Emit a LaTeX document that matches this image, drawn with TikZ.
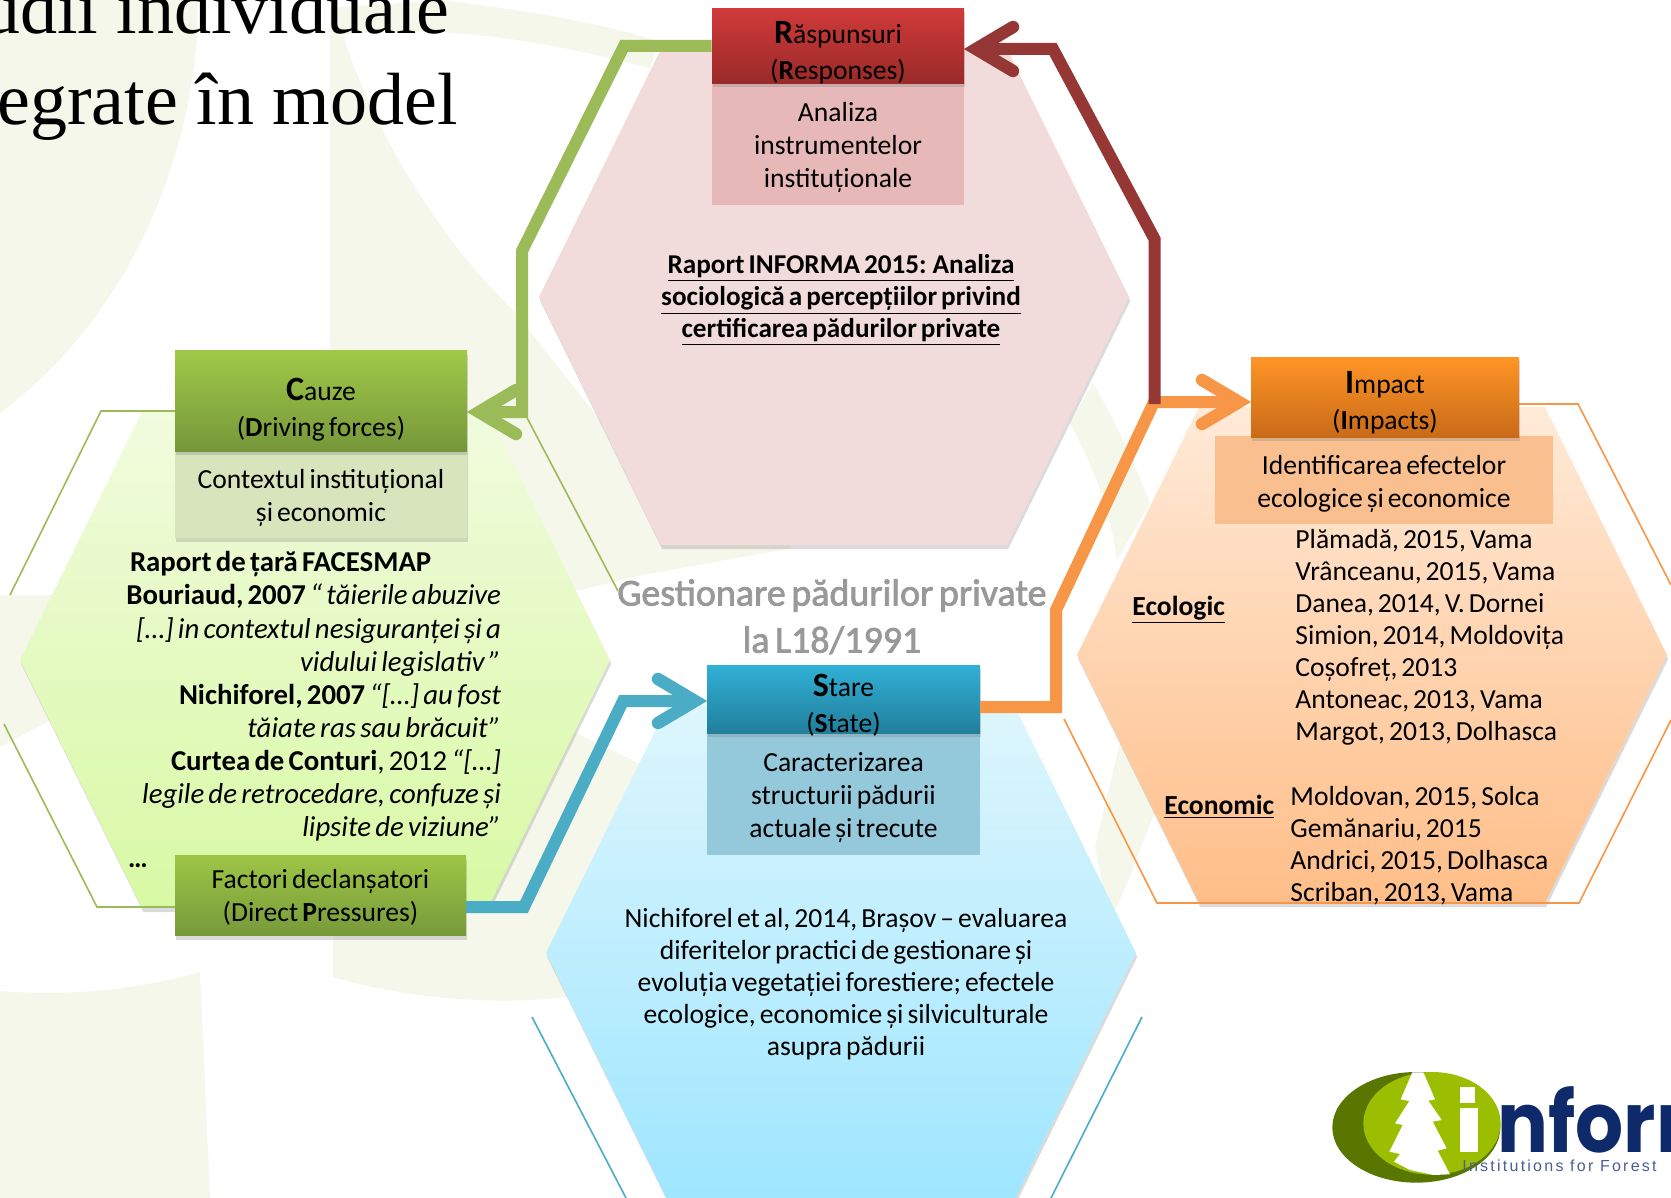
\documentclass[tikz,border=0pt]{standalone}
\usepackage{fontspec}
\setmainfont{Carlito}[WordSpace=0.65]
\newfontfamily\titlefont{Liberation Serif}
\newfontfamily\logofont{Poppins}[FakeStretch=0.9]
\newfontfamily\logosmall[LetterSpace=14]{Liberation Sans}
\usetikzlibrary{arrows.meta,shadows,calc}
\definecolor{palebg}{HTML}{F5F7EA}
\definecolor{cgreen}{HTML}{9BBB59}
\definecolor{cred}{HTML}{953735}
\definecolor{corange}{HTML}{F79646}
\definecolor{cblue}{HTML}{4BACC6}
\definecolor{navy}{HTML}{0F2A6B}
\tikzset{
  softshadow/.style={drop shadow={opacity=0.28,shadow xshift=0.6pt,shadow yshift=-2pt}},
  hexshape/.style={softshadow},
  boxhead/.style={rectangle,inner sep=0pt,softshadow},
  boxbody/.style={rectangle,inner sep=0pt},
  headtext/.style={inner sep=0pt,align=center,font=\fontsize{13.8}{18}\selectfont},
  plaintext/.style={inner sep=0pt,font=\fontsize{13.8}{16}\selectfont},
  conn/.style={line width=6pt,miter limit=3},
  chevron/.style={line width=6.2pt,line cap=round,miter limit=10},
  thinline/.style={line width=0.8pt},
  pale/.style={fill=palebg,draw=none}
}
\newcommand{\capl}[1]{\textbf{{\fontsize{17}{18}\selectfont #1}}}
\begin{document}
\begin{tikzpicture}[x=0.5pt,y=-0.5pt]
\useasboundingbox (0,0) rectangle (1671,1198);
\clip (0,0) rectangle (1671,1198);
\fill[white] (0,0) rectangle (1671,1198);
% pale background swirl
\path[pale] (0,0) -- (197,0) -- (197,38) .. controls (190,130) and (150,300) .. (0,413) -- cycle;
\path[pale] (330,8) -- (443,0) .. controls (520,10) and (600,22) .. (660,42) -- (650,68)
  .. controls (560,45) and (450,22) .. (343,35) .. controls (370,120) and (430,230) .. (513,310)
  -- (600,420) -- (793,548) -- (643,575) -- (580,590) -- (480,600) -- (330,500) -- cycle;
\path[pale] (0,595) -- (60,595) -- (60,715) -- (0,747) -- cycle;
\path[pale] (0,991) .. controls (60,996) and (130,992) .. (200,972) -- (210,1198) -- (0,1198) -- cycle;
\path[pale] (333,880) -- (500,700) -- (580,735) -- (640,764) -- (680,1000) -- (567,997)
  .. controls (500,1005) and (410,1000) .. (333,977) -- cycle;
\path[pale] (1093,383) .. controls (1115,420) and (1135,465) .. (1150,503) -- (1117,560)
  .. controls (1110,510) and (1095,470) .. (1070,423) -- cycle;
\path[pale] (1120,743) -- (1157,807) -- (1123,893) -- (1110,920) -- (1095,847) -- cycle;
% title
\node[inner sep=0pt,anchor=base east,font=\titlefont\fontsize{37}{40}\selectfont] (t1) at (450,34) {udii individuale};
\node[inner sep=0pt,anchor=base east,font=\titlefont\fontsize{37}{40}\selectfont] (t2) at (458,125) {egrate în model};
% hexagons
\path[hexshape,fill={rgb,255:red,242;green,220;blue,219}] (539,297) -- (661,49) -- (1007,49) -- (1129,297) -- (1007,545) -- (661,545) -- cycle;
\path[hexshape,top color={rgb,255:red,241;green,251;blue,222},bottom color={rgb,255:red,216;green,249;blue,164}] (20,660) -- (142,412) -- (488,412) -- (610,660) -- (488,908) -- (142,908) -- cycle;
\path[hexshape,top color={rgb,255:red,222;green,246;blue,253},bottom color={rgb,255:red,158;green,230;blue,255}] (546,953) -- (668,705) -- (1014,705) -- (1136,953) -- (1014,1201) -- (668,1201) -- cycle;
\path[hexshape,top color={rgb,255:red,255;green,234;blue,216},bottom color={rgb,255:red,255;green,190;blue,136}] (1077,655) -- (1199,407) -- (1545,407) -- (1667,655) -- (1545,903) -- (1199,903) -- cycle;
% thin outlines
\draw[thinline,cgreen] (175,411) -- (101,411) -- (10,595);
\draw[thinline,cgreen] (524,412) -- (618,591);
\draw[thinline,cgreen] (4,724) -- (97,907) -- (175,907);
\draw[thinline,cblue] (532,1017) -- (626,1198);
\draw[thinline,cblue] (1142,1017) -- (1051,1198);
\draw[thinline,corange] (1519,404) -- (1578,404) -- (1671,585);
\draw[thinline,corange] (1064,719) -- (1157,903) -- (1579,903) -- (1671,720);
% boxes
\node[boxbody,fill={rgb,255:red,230;green,184;blue,183},minimum width=126pt,minimum height=61pt] (respb) at (838,144.5) {};
\node[boxhead,top color={rgb,255:red,208;green,58;blue,58},bottom color={rgb,255:red,152;green,42;blue,40},minimum width=126pt,minimum height=37.5pt] (resp) at (838,46) {};
\node[boxbody,fill={rgb,255:red,216;green,228;blue,188},softshadow,minimum width=146pt,minimum height=43.5pt] (cauzeb) at (321,494.5) {};
\node[boxhead,top color={rgb,255:red,160;green,200;blue,72},bottom color={rgb,255:red,118;green,151;blue,58},minimum width=146pt,minimum height=50pt] (cauze) at (321,401) {};
\node[boxhead,top color={rgb,255:red,158;green,197;blue,70},bottom color={rgb,255:red,119;green,154;blue,58},minimum width=145.5pt,minimum height=40pt] (fact) at (320.5,895.5) {};
\node[boxbody,fill={rgb,255:red,148;green,200;blue,219},minimum width=136.5pt,minimum height=61pt] (stareb) at (843.5,794) {};
\node[boxhead,top color={rgb,255:red,49;green,176;blue,214},bottom color={rgb,255:red,33;green,127;blue,156},minimum width=136.5pt,minimum height=34pt] (stare) at (843.5,699) {};
\node[boxbody,fill={rgb,255:red,249;green,191;blue,143},minimum width=169pt,minimum height=44pt] (impb) at (1384,479.5) {};
\node[boxhead,top color={rgb,255:red,255;green,149;blue,38},bottom color={rgb,255:red,201;green,106;blue,24},minimum width=134pt,minimum height=40pt] (imp) at (1385,397) {};
% box texts
\node[headtext] (respT) at (838,52.4) {\capl{R}ăspunsuri\\(\textbf{R}esponses)};
\node[headtext,font=\fontsize{13.8}{16.5}\selectfont] (respbT) at (838,147.7) {Analiza\\instrumentelor\\instituționale};
\node[headtext] (cauzeT) at (321,410) {\capl{C}auze\\(\textbf{D}riving forces)};
\node[headtext,font=\fontsize{13.8}{16.5}\selectfont] (cauzebT) at (321,497.7) {Contextul instituțional\\și economic};
\node[headtext,font=\fontsize{13.8}{16.5}\selectfont] (factT) at (320.5,897.5) {Factori declanșatori\\(Direct \textbf{P}ressures)};
\node[headtext] (stareT) at (843.5,705.4) {\capl{S}tare\\(\textbf{S}tate)};
\node[headtext,font=\fontsize{13.8}{16.5}\selectfont] (starebT) at (843.5,797.5) {Caracterizarea\\structurii pădurii\\actuale și trecute};
\node[headtext] (impT) at (1385,402.3) {\capl{I}mpact\\(\textbf{I}mpacts)};
\node[headtext,font=\fontsize{13.8}{16.5}\selectfont] (impbT) at (1384,483.8) {Identificarea efectelor\\ecologice și economice};
% body texts
\node[plaintext,align=center,font=\fontsize{13.6}{16}\selectfont\bfseries] (inf) at (841,300.3) {\underline{Raport INFORMA 2015: Analiza}\\\underline{sociologică a percepțiilor privind}\\\underline{certificarea pădurilor private}};
\node[plaintext,align=flush right,text width=200pt,anchor=center,font=\fontsize{14.4}{16.55}\selectfont] (drv) at (301,696.5) {\makebox[\linewidth][l]{\hspace*{14.5pt}\textbf{Raport de țară FACESMAP}}\\
\textbf{Bouriaud, 2007} \textit{“ tăierile abuzive}\\
\textit{[…] in contextul nesiguranței și a}\\
\textit{vidului legislativ ”}\\
\textbf{Nichiforel, 2007} \textit{“[…] au fost}\\
\textit{tăiate ras sau brăcuit”}\\
\textbf{Curtea de Conturi}, 2012 \textit{“[…]}\\
\textit{legile de retrocedare, confuze și}\\
\textit{lipsite de viziune”}};
\node[plaintext] (dots) at (138,866) {\textbf{…}};
\node[plaintext,align=center] (nich) at (846,984.5) {Nichiforel et al, 2014, Brașov – evaluarea\\diferitelor practici de gestionare și\\evoluția vegetației forestiere; efectele\\ecologice, economice și silviculturale\\asupra pădurii};
\node[plaintext,anchor=west] (eco) at (1132,610) {\textbf{\underline{Ecologic}}};
\node[plaintext,anchor=west] (econ) at (1164,807) {\textbf{\underline{Economic}}};
\node[plaintext,align=left,anchor=west] (ecol) at (1295,637.5) {Plămadă, 2015, Vama\\Vrânceanu, 2015, Vama\\Danea, 2014, V. Dornei\\Simion, 2014, Moldovița\\Coșofreț, 2013\\Antoneac, 2013, Vama\\Margot, 2013, Dolhasca};
\node[plaintext,align=left,anchor=west] (ecnl) at (1290,845.5) {Moldovan, 2015, Solca\\Gemănariu, 2015\\Andrici, 2015, Dolhasca\\Scriban, 2013, Vama};
\node[inner sep=0pt,align=center,text=black!40,font=\fontsize{19}{23.5}\selectfont\addfontfeature{FakeBold=2}] (gest) at (832,616.7) {Gestionare pădurilor private\\la L18/1991};
% connectors
\coordinate (gA) at (624,46);
\coordinate (gB) at (522,251);
\coordinate (gC) at (522,412);
\coordinate (gEnd) at (479,412);
\draw[conn,cgreen] (resp.west) -- (gA) -- (gB) -- (gC) -- (gEnd);
\draw[chevron,cgreen] ($(gEnd)+(37,-22)$) -- (gEnd) -- ($(gEnd)+(37,22)$);
\coordinate (bA) at (524,907);
\coordinate (bB) at (623,701);
\coordinate (bS) at (466,907);
\coordinate (bEnd) at (695,701);
\draw[conn,cblue] (bS) -- (bA) -- (bB) -- (bEnd);
\draw[chevron,cblue] ($(bEnd)+(-37,-22)$) -- (bEnd) -- ($(bEnd)+(-37,22)$);
\coordinate (oS) at (980,707);
\coordinate (oA) at (1056,707);
\coordinate (oB) at (1056,610);
\coordinate (oC) at (1154,402);
\coordinate (oEnd) at (1239,402);
\draw[conn,corange] (oS) -- (oA) -- (oB) -- (oC) -- (oEnd);
\draw[chevron,corange] ($(oEnd)+(-37,-22)$) -- (oEnd) -- ($(oEnd)+(-37,22)$);
\coordinate (rS) at (1154.5,404);
\coordinate (rA) at (1154.5,239);
\coordinate (rB) at (1053,49);
\coordinate (rEnd) at (976,49);
\draw[conn,cred] (rS) -- (rA) -- (rB) -- (rEnd);
\draw[chevron,cred] ($(rEnd)+(37,-22)$) -- (rEnd) -- ($(rEnd)+(37,22)$);
% logo
\begin{scope}[shift={(1300,1040)},x=0.16667pt,y=-0.16667pt]
\fill[color={rgb,255:red,88;green,118;blue,0}] (349,262) ellipse [x radius=252,y radius=166];
\fill[color={rgb,255:red,156;green,190;blue,0}] (396,250) ellipse [x radius=206,y radius=154];
\fill[white] (337,97) -- (370,97) -- (405,178) -- (385,182) -- (425,240) -- (398,245) -- (440,325) -- (413,332) -- (450,403) -- (400,405) -- (330,390) -- (282,365) -- (300,342) -- (268,335) -- (308,255) -- (285,250) -- (328,183) -- (302,178) -- cycle;
\fill[white] (480,140) rectangle (525,190);
\fill[white] (480,205) rectangle (535,335);
\end{scope}
\node[inner sep=0pt,anchor=base west,text=navy,font=\logofont\bfseries\fontsize{42}{44}\selectfont] (logoa) at (1497,1152) {nform};
\node[inner sep=0pt,anchor=base west,text=navy!75,font=\logosmall\fontsize{8}{10}\selectfont] (logob) at (1462,1171) {Institutions for Forest};
\end{tikzpicture}
\end{document}
